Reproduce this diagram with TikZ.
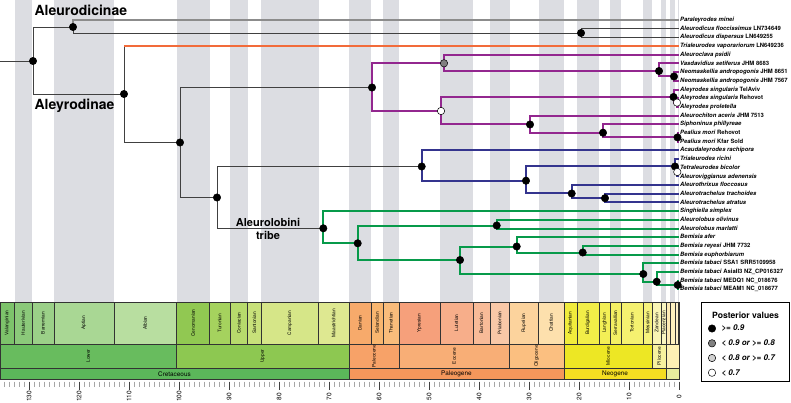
\documentclass[tikz,border=0pt]{standalone}
\usepackage{fontspec}
\setmainfont{TeX Gyre Heros}

% clade colours
\definecolor{cPurple}{HTML}{93278F}
\definecolor{cBlue}{HTML}{34348E}
\definecolor{cGreen}{HTML}{079A4A}
\definecolor{cOrange}{HTML}{F26B3A}
\definecolor{cBand}{HTML}{DCDDE2}

% stages
\definecolor{sVal}{HTML}{7DC36B}
\definecolor{sHau}{HTML}{8BC97A}
\definecolor{sBar}{HTML}{9BD088}
\definecolor{sApt}{HTML}{A9D794}
\definecolor{sAlb}{HTML}{B8DEA0}
\definecolor{sCen}{HTML}{91C852}
\definecolor{sTur}{HTML}{A5D25E}
\definecolor{sCon}{HTML}{B7DA6C}
\definecolor{sSan}{HTML}{C8E17A}
\definecolor{sCam}{HTML}{D6E688}
\definecolor{sMaa}{HTML}{DEE891}
\definecolor{sDan}{HTML}{F7AA6B}
\definecolor{sSel}{HTML}{F8B66F}
\definecolor{sTha}{HTML}{F9BC7B}
\definecolor{sYpr}{HTML}{F6A07B}
\definecolor{sLut}{HTML}{F7AE8A}
\definecolor{sBart}{HTML}{F8BB98}
\definecolor{sPri}{HTML}{F9C8A7}
\definecolor{sRup}{HTML}{FCD39D}
\definecolor{sCha}{HTML}{FDE0AD}
\definecolor{sAqu}{HTML}{F1EC3C}
\definecolor{sBur}{HTML}{F2EE48}
\definecolor{sLan}{HTML}{F3EF56}
\definecolor{sSer}{HTML}{F4F063}
\definecolor{sTor}{HTML}{F5F170}
\definecolor{sMes}{HTML}{F6F27C}
\definecolor{sZan}{HTML}{F9F5B4}
\definecolor{sPia}{HTML}{FAF6C0}
\definecolor{sGel}{HTML}{FDEBB5}
\definecolor{sCal}{HTML}{FDF0BE}
\definecolor{sMid}{HTML}{FDF0C9}
\definecolor{sUpp}{HTML}{FDF1D4}
% epochs
\definecolor{eLow}{HTML}{68BC5E}
\definecolor{eUpp}{HTML}{8DC851}
\definecolor{ePal}{HTML}{F7A268}
\definecolor{eEoc}{HTML}{F8AE76}
\definecolor{eOli}{HTML}{FBBF80}
\definecolor{eMio}{HTML}{EDE724}
\definecolor{ePli}{HTML}{F7F29E}
\definecolor{ePle}{HTML}{FDF0B4}
% periods
\definecolor{pCre}{HTML}{5BB75A}
\definecolor{pPal}{HTML}{F5975B}
\definecolor{pNeo}{HTML}{F5DE22}
\definecolor{pQua}{HTML}{E8EE9E}

\tikzset{
  br/.style={line width=0.9pt, black!75},
  brL/.style={line width=1.1pt, black!45},
  brP/.style={line width=2pt, cPurple},
  brB/.style={line width=2pt, cBlue},
  brG/.style={line width=2pt, cGreen},
  brO/.style={line width=2pt, cOrange},
  post/.style={circle, draw=black, line width=0.5pt, fill=black, inner sep=0pt, minimum size=7.4pt},
  postM/.style={post, fill=black!50},
  postL/.style={post, fill=black!18},
  postW/.style={post, fill=white},
  tip/.style={anchor=west, inner sep=1pt, text height=4.4pt, text depth=1.2pt,
    font=\fontsize{5.9}{7}\selectfont\bfseries},
  cladelab/.style={font=\fontsize{14}{16}\selectfont\bfseries},
  cell/.style={draw=black!80, line width=0.4pt},
  stagelab/.style={rotate=90, font=\fontsize{4.8}{5}\selectfont},
  periodlab/.style={font=\fontsize{6.4}{7}\selectfont},
  legtext/.style={anchor=west, font=\fontsize{8}{9}\selectfont\bfseries\itshape},
}

\begin{document}
\begin{tikzpicture}[x=1pt,y=-1pt]
\useasboundingbox (0,0) rectangle (791,403);

% Stage bands
\foreach \a/\b in {132.9/129.4,125/113,100.5/93.9,89.8/86.3,83.6/72.1,66/61.6,59.2/56,
  47.8/41.2,37.8/33.9,28.1/23.03,20.44/15.97,13.82/11.63,7.246/5.333,3.6/2.58,1.8/0.781,0.126/0}
  \fill[cBand] ({679-5*\a},0) rectangle ({679-5*\b},302);

% Time scale: stages
\foreach \a/\b/\c/\name in {135.8/132.9/sVal/Valanginian,132.9/129.4/sHau/Hauterivian,
  129.4/125/sBar/Barremian,125/113/sApt/Aptian,113/100.5/sAlb/Albian,
  100.5/93.9/sCen/Cenomanian,93.9/89.8/sTur/Turonian,89.8/86.3/sCon/Coniacian,
  86.3/83.6/sSan/Santonian,83.6/72.1/sCam/Campanian,72.1/66/sMaa/Maastrichtian,
  66/61.6/sDan/Danian,61.6/59.2/sSel/Selandian,59.2/56/sTha/Thanetian,
  56/47.8/sYpr/Ypresian,47.8/41.2/sLut/Lutetian,41.2/37.8/sBart/Bartonian,
  37.8/33.9/sPri/Priabonian,33.9/28.1/sRup/Rupelian,28.1/23.03/sCha/Chattian,
  23.03/20.44/sAqu/Aquitanian,20.44/15.97/sBur/Burdigalian,15.97/13.82/sLan/Langhian,
  13.82/11.63/sSer/Serravallian,11.63/7.246/sTor/Tortonian,7.246/5.333/sMes/Messinian,
  5.333/3.6/sZan/Zanclean,3.6/2.58/sPia/Piacenzian,2.58/1.8/sGel/{},
  1.8/0.781/sCal/{},0.781/0.126/sMid/{},0.126/0/sUpp/{}}{
  \draw[cell, fill=\c] ({679-5*\a},302) rectangle ({679-5*\b},344);
  \node[stagelab] at ({679-2.5*(\a+\b)},323) {\name};
}

% Time scale: epochs
\foreach \a/\b/\c/\name in {135.8/100.5/eLow/Lower,100.5/66/eUpp/Upper,66/56/ePal/Paleocene,
  56/33.9/eEoc/Eocene,33.9/23.03/eOli/Oligocene,23.03/5.333/eMio/Miocene,
  5.333/2.58/ePli/Pliocene,2.58/0/ePle/{}}{
  \draw[cell, fill=\c] ({679-5*\a},344) rectangle ({679-5*\b},368);
  \node[stagelab] at ({679-2.5*(\a+\b)},356) {\name};
}

% Time scale: periods
\foreach \a/\b/\c/\name in {135.8/66/pCre/Cretaceous,66/23.03/pPal/Paleogene,
  23.03/2.58/pNeo/Neogene,2.58/0/pQua/{}}{
  \draw[cell, fill=\c] ({679-5*\a},368) rectangle ({679-5*\b},379.5);
  \node[periodlab] at ({679-2.5*(\a+\b)},373.8) {\name};
}

% Ticks
\foreach \a in {0,...,135}
  \draw[black!35, line width=0.5pt] ({679-5*\a},381.5) -- ++(0,5.5);
\foreach \a in {0,10,...,130}{
  \draw[black!75, line width=0.6pt] ({679-5*\a},381.5) -- ++(0,8);
  \node[rotate=90, font=\fontsize{6.5}{7}\selectfont] at ({679-5*\a},396.5) {\a};
}

% Tips
\foreach \i/\lab in {1/{\textit{Paraleyrodes minei}},
  2/{\textit{Aleurodicus floccissimus} LN734649},
  3/{\textit{Aleurodicus dispersus} LN649255},
  4/{\textit{Trialeurodes vaporariorum} LN649236},
  5/{\textit{Aleuroclava psidii}},
  6/{\textit{Vasdavidius setiferus} JHM 8683},
  7/{\textit{Neomaskellia andropogonis} JHM 8651},
  8/{\textit{Neomaskellia andropogonis} JHM 7567},
  9/{\textit{Aleyrodes singularis} TelAviv},
  10/{\textit{Aleyrodes singularis} Rehovot},
  11/{\textit{Aleyrodes proletella}},
  12/{\textit{Aleurochiton aceris} JHM 7513},
  13/{\textit{Siphoninus phillyreae}},
  14/{\textit{Pealius mori} Rehovot},
  15/{\textit{Pealius mori} Kfar Sold},
  16/{\textit{Acaudaleyrodes rachipora}},
  17/{\textit{Trialeurodes ricini}},
  18/{\textit{Tetraleurodes bicolor}},
  19/{\textit{Aleuroviggianus adenensis}},
  20/{\textit{Aleurothrixus floccosus}},
  21/{\textit{Aleurotrachelus trachoides}},
  22/{\textit{Aleurotrachelus atratus}},
  23/{\textit{Singhiella simplex}},
  24/{\textit{Aleurolobus olivinus}},
  25/{\textit{Aleurolobus marlatti}},
  26/{\textit{Bemisia afer}},
  27/{\textit{Bemisia reyesi} JHM 7732},
  28/{\textit{Bemisia euphorbiarum}},
  29/{\textit{Bemisia tabaci} SSA1 SRR5109958},
  30/{\textit{Bemisia tabaci} AsiaII3 NZ\_CP016327},
  31/{\textit{Bemisia tabaci} MEDQ1 NC\_018676},
  32/{\textit{Bemisia tabaci} MEAM1 NC\_018677}}
  \node[tip] (t\i) at (679,{20+(\i-1)*8.69}) {\lab};

% Internal nodes
\coordinate (stem) at (0,61);
\coordinate (root) at (33,61);
\coordinate (nAld) at (73,27);
\coordinate (nAleu) at (581,33);
\coordinate (nAly) at (124,94);
\coordinate (nA2) at (180,142.5);
\coordinate (nPur) at (372,87.5);
\coordinate (nPG) at (444,63.3);
\coordinate (nVas) at (659,71);
\coordinate (nNeo) at (674,76.5);
\coordinate (nPO) at (441,111);
\coordinate (nAsg) at (673.5,97);
\coordinate (nAsg2) at (677,102.6);
\coordinate (nAch) at (530,124.5);
\coordinate (nSip) at (603,132.7);
\coordinate (nPea) at (677.5,137.4);
\coordinate (nA3) at (217,197.5);
\coordinate (nBlue) at (421.7,166.5);
\coordinate (nTri) at (526,180.7);
\coordinate (nTet) at (675,166.5);
\coordinate (nTet2) at (677.3,172);
\coordinate (nAtr) at (571.7,193.5);
\coordinate (nAtr2) at (605,198.2);
\coordinate (nGreen) at (323.3,228.3);
\coordinate (nG2) at (357.7,243.3);
\coordinate (nAlo) at (496.7,225.5);
\coordinate (nBem) at (460,260);
\coordinate (nBaf) at (516.7,246.5);
\coordinate (nBre) at (582.7,252.5);
\coordinate (nTab) at (643.3,274);
\coordinate (nTab2) at (656.7,281.7);
\coordinate (nTab3) at (677.7,285);

% Backbone
\draw[br] (stem) -- (root);
\draw[br] (root) |- (nAld);
\draw[br] (root) |- (nAly);
\draw[brL] (nAld) |- (t1.west);
\draw[br] (nAld) |- (nAleu);
\draw[br] (nAleu) |- (t2.west);
\draw[br] (nAleu) |- (t3.west);
\draw[br] (nAly) -- (nAly |- t4.west);
\draw[brO] (nAly |- t4.west) -- (t4.west);
\draw[br] (nAly) |- (nA2);
\draw[br] (nA2) |- (nPur);
\draw[br] (nA2) |- (nA3);
\draw[br] (nA3) |- (nBlue);
\draw[br] (nA3) |- (nGreen);

% Purple clade
\draw[brP] (nPur) |- (nPG);
\draw[brP] (nPur) |- (nPO);
\draw[brP] (nPG) |- (t5.west);
\draw[brP] (nPG) |- (nVas);
\draw[brP] (nVas) |- (t6.west);
\draw[brP] (nVas) |- (nNeo);
\draw[brP] (nNeo) |- (t7.west);
\draw[brP] (nNeo) |- (t8.west);
\draw[brP] (nPO) |- (nAsg);
\draw[brP] (nPO) |- (nAch);
\draw[brP] (nAsg) |- (t9.west);
\draw[brP] (nAsg) |- (nAsg2);
\draw[brP] (nAsg2) |- (t10.west);
\draw[brP] (nAsg2) |- (t11.west);
\draw[brP] (nAch) |- (t12.west);
\draw[brP] (nAch) |- (nSip);
\draw[brP] (nSip) |- (t13.west);
\draw[brP] (nSip) |- (nPea);
\draw[brP] (nPea) |- (t14.west);
\draw[brP] (nPea) |- (t15.west);

% Blue clade
\draw[brB] (nBlue) |- (t16.west);
\draw[brB] (nBlue) |- (nTri);
\draw[brB] (nTri) |- (nTet);
\draw[brB] (nTri) |- (nAtr);
\draw[brB] (nTet) |- (t17.west);
\draw[brB] (nTet) |- (nTet2);
\draw[brB] (nTet2) |- (t18.west);
\draw[brB] (nTet2) |- (t19.west);
\draw[brB] (nAtr) |- (t20.west);
\draw[brB] (nAtr) |- (nAtr2);
\draw[brB] (nAtr2) |- (t21.west);
\draw[brB] (nAtr2) |- (t22.west);

% Green clade
\draw[brG] (nGreen) |- (t23.west);
\draw[brG] (nGreen) |- (nG2);
\draw[brG] (nG2) |- (nAlo);
\draw[brG] (nG2) |- (nBem);
\draw[brG] (nAlo) |- (t24.west);
\draw[brG] (nAlo) |- (t25.west);
\draw[brG] (nBem) |- (nBaf);
\draw[brG] (nBem) |- (nTab);
\draw[brG] (nBaf) |- (t26.west);
\draw[brG] (nBaf) |- (nBre);
\draw[brG] (nBre) |- (t27.west);
\draw[brG] (nBre) |- (t28.west);
\draw[brG] (nTab) |- (t29.west);
\draw[brG] (nTab) |- (nTab2);
\draw[brG] (nTab2) |- (t30.west);
\draw[brG] (nTab2) |- (nTab3);
\draw[brG] (nTab3) |- (t31.west);
\draw[brG] (nTab3) |- (t32.west);

% Posterior values
\foreach \n in {root,nAld,nAleu,nAly,nA2,nPur,nVas,nNeo,nAsg,nAch,nSip,nPea,
  nA3,nBlue,nTri,nTet,nAtr,nAtr2,nGreen,nG2,nAlo,nBem,nBaf,nBre,nTab,nTab2,nTab3}
  \node[post] at (\n) {};
\node[postM] at (nPG) {};
\foreach \n in {nPO,nAsg2,nTet2}
  \node[postW] at (\n) {};

% Clade labels
\node[cladelab, anchor=west] (lAld) at (31,10.5) {Aleurodicinae};
\node[cladelab, anchor=west] (lAly) at (31,106) {Aleyrodinae};
\node[align=center, font=\fontsize{11}{13}\selectfont\bfseries] (lAlo) at (268,228.5) {Aleurolobini\\tribe};

% Legend
\draw[line width=0.8pt, fill=white] (701,302) rectangle (789.5,381);
\node[font=\fontsize{8.6}{10}\selectfont\bfseries] (legT) at (745.5,315) {Posterior values};
\node[post] (lg1) at (712,328.5) {};
\node[postM] (lg2) at (712,343.3) {};
\node[postL] (lg3) at (712,358) {};
\node[postW] (lg4) at (712,372.7) {};
\node[legtext] at (718,328.5) {>= 0.9};
\node[legtext] at (718,343.3) {< 0.9 or >= 0.8};
\node[legtext] at (718,358) {< 0.8 or >= 0.7};
\node[legtext] at (718,372.7) {< 0.7};

\end{tikzpicture}
\end{document}
